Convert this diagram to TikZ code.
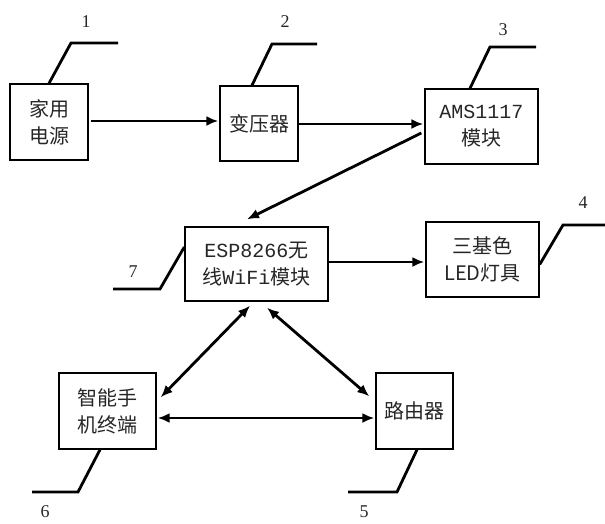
\documentclass[tikz,border=0pt]{standalone}
\usepackage{fontspec}
\setmainfont{Liberation Serif}
\newfontfamily\cjk{Noto Sans CJK SC}
\newfontfamily\lat{Liberation Mono}
\usetikzlibrary{arrows.meta,calc}
\tikzset{
  blk/.style={draw=black, line width=1.4pt, inner sep=0pt, align=center,
    font=\cjk\fontsize{20}{27}\selectfont, text=black!85},
  arr/.style={line width=2.8pt, -{Latex[length=12pt,width=10pt]}},
  darr/.style={line width=2.8pt, {Latex[length=12pt,width=10pt]}-{Latex[length=12pt,width=10pt]}},
  lead/.style={line width=2.8pt},
  num/.style={font=\fontsize{18}{20}\selectfont, text=black!85, inner sep=0pt}
}
\begin{document}
\begin{tikzpicture}[x=1pt,y=-1pt]
\useasboundingbox (0,0) rectangle (605,523);
% blocks
\node[blk, minimum width=78pt, minimum height=76pt] (b1) at (49,122) {家用\\电源};
\node[blk, minimum width=78pt, minimum height=75pt] (b2) at (259,123.5) {变压器};
\node[blk, minimum width=113pt, minimum height=75pt] (b3) at (481.5,126.5) {{\lat AMS1117}\\模块};
\node[blk, minimum width=143pt, minimum height=74pt] (b7) at (256.5,264) {{\lat ESP8266}无\\线{\lat WiFi}模块};
\node[blk, minimum width=113pt, minimum height=75pt] (b4) at (482.5,259.5) {三基色\\LED灯具};
\node[blk, minimum width=97pt, minimum height=76pt] (b6) at (107.5,411) {智能手\\机终端};
\node[blk, minimum width=77pt, minimum height=76pt] (b5) at (414.5,411) {路由器};
% connectors
\draw[arr] ($(b1.east)+(2,-1)$) -- ($(b2.west)+(-1,-2.5)$);
\draw[arr] ($(b2.east)+(0,0.5)$) -- ($(b3.west)+(-1,-2.5)$);
\draw[arr] ($(b3.west)+(-3,6.5)$) -- ($(b7.north)+(-9.5,-7)$);
\draw[arr] ($(b7.east)+(0,-2)$) -- ($(b4.west)+(-1,2.5)$);
\draw[darr] ($(b7.south)+(-6.5,4)$) -- ($(b6.north east)+(4,25)$);
\draw[darr] ($(b7.south)+(10.5,6)$) -- ($(b5.north west)+(-6,24)$);
\draw[darr] ($(b6.east)+(1,7)$) -- ($(b5.west)+(-1,7)$);
% leaders
\coordinate (k1) at (71,43); \coordinate (e1) at (118,43);
\coordinate (k2) at (272,44); \coordinate (e2) at (317,44);
\coordinate (k3) at (490,47); \coordinate (e3) at (536,47);
\coordinate (k4) at (563,225); \coordinate (e4) at (605,225);
\coordinate (k7) at (160,289); \coordinate (e7) at (113,289);
\coordinate (k6) at (78,492); \coordinate (e6) at (32,492);
\coordinate (k5) at (397,492); \coordinate (e5) at (348,492);
\draw[lead] (b1.north) -- (k1) -- (e1);
\draw[lead] ($(b2.north)+(-7,0)$) -- (k2) -- (e2);
\draw[lead] ($(b3.north)+(-11.5,0)$) -- (k3) -- (e3);
\draw[lead] ($(b4.east)+(0,5)$) -- (k4) -- (e4);
\draw[lead] ($(b7.west)+(0,-17)$) -- (k7) -- (e7);
\draw[lead] ($(b6.south)+(-7.5,0)$) -- (k6) -- (e6);
\draw[lead] ($(b5.south)+(2.5,0)$) -- (k5) -- (e5);
% numbers
\node[num] (n1) at (86,22) {1};
\node[num] (n2) at (285,22) {2};
\node[num] (n3) at (503,30) {3};
\node[num] (n4) at (583,203) {4};
\node[num] (n7) at (133,272) {7};
\node[num] (n6) at (45,512) {6};
\node[num] (n5) at (364,512) {5};
\end{tikzpicture}
\end{document}
